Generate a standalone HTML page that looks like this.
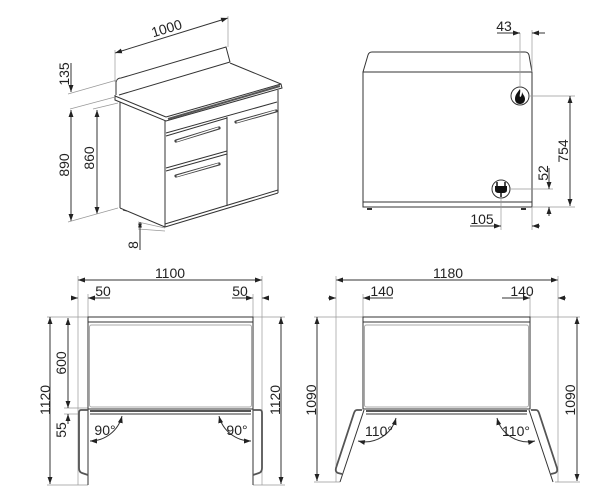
<!DOCTYPE html>
<html><head><meta charset="utf-8"><style>
html,body{margin:0;padding:0;background:#fff;}
svg{display:block;}
text{font-family:"Liberation Sans",sans-serif;font-size:14px;fill:#222;}
</style></head><body>
<svg width="600" height="494" viewBox="0 0 600 494" xmlns="http://www.w3.org/2000/svg">
<defs>
<marker id="a" viewBox="0 0 10 10" refX="10" refY="5" markerWidth="7" markerHeight="7" orient="auto-start-reverse"><path d="M0,1.5 L10,5 L0,8.5 z" fill="#222"/></marker>
</defs>
<g fill="none" stroke="#333" stroke-width="1">
<line x1="115" y1="53" x2="228" y2="18" marker-start="url(#a)" marker-end="url(#a)"/>
<line x1="115" y1="50" x2="115" y2="82" stroke="#999" stroke-width="0.7"/>
<line x1="228" y1="16" x2="228" y2="47" stroke="#999" stroke-width="0.7"/>
<path d="M116,95 L116,82 Q117,78 121,78 L226,47 L230,62"/>
<line x1="119" y1="95" x2="230" y2="62"/>
<path d="M115,95 L115,100 L166,121 L282,88 L281,84 L230,63"/>
<line x1="115" y1="96" x2="166" y2="117"/>
<line x1="166" y1="117" x2="281" y2="84"/>
<line x1="168" y1="119" x2="280" y2="86" stroke-width="2" stroke="#555"/>
<line x1="120" y1="102" x2="120" y2="208"/>
<line x1="165" y1="121" x2="165" y2="227"/>
<line x1="278" y1="90" x2="278" y2="193"/>
<line x1="120" y1="208" x2="165" y2="227"/>
<line x1="165" y1="227" x2="278" y2="193"/>
<line x1="165" y1="224" x2="278" y2="190"/>
<line x1="166" y1="133" x2="277" y2="102"/>
<line x1="166" y1="136" x2="227" y2="118"/>
<line x1="227" y1="117" x2="227" y2="206"/>
<line x1="166" y1="171" x2="227" y2="154"/>
<line x1="166" y1="168" x2="227" y2="151"/>
<g stroke-width="3.2" stroke="#444" stroke-linecap="round">
<line x1="176" y1="141" x2="219" y2="128"/>
<line x1="176" y1="176" x2="219" y2="164"/>
<line x1="236" y1="122" x2="276" y2="111"/>
</g>
<g stroke-width="1.2" stroke="#fff" stroke-linecap="round">
<line x1="177" y1="141" x2="218" y2="128"/>
<line x1="177" y1="176" x2="218" y2="164"/>
<line x1="237" y1="122" x2="275" y2="111"/>
</g>
<line x1="123" y1="210" x2="127" y2="211"/>
<line x1="71" y1="63" x2="71" y2="92" marker-end="url(#a)"/>
<line x1="71" y1="110" x2="71" y2="221" marker-start="url(#a)" marker-end="url(#a)"/>
<line x1="97" y1="110" x2="97" y2="214" marker-start="url(#a)" marker-end="url(#a)"/>
<g stroke="#999" stroke-width="0.7">
<line x1="68" y1="94" x2="117" y2="80"/>
<line x1="70" y1="109" x2="115" y2="97"/>
<line x1="93" y1="109" x2="118" y2="103"/>
<line x1="68" y1="222" x2="118" y2="208"/>
<line x1="138" y1="222" x2="165" y2="228"/>
<line x1="138" y1="229" x2="165" y2="231"/>
</g>
<line x1="140" y1="222" x2="140" y2="229" marker-start="url(#a)" marker-end="url(#a)" stroke-width="0.8"/>
<line x1="140" y1="229" x2="140" y2="250"/>

<path d="M363,72 L368,55 Q369,52 372,52 L525,52 Q528,52 529,55 L532,72"/>
<rect x="363" y="72" width="169" height="135"/>
<line x1="363" y1="202" x2="532" y2="202"/>
<line x1="367" y1="209" x2="372" y2="209" stroke-width="2"/>
<line x1="521" y1="209" x2="526" y2="209" stroke-width="2"/>
<circle cx="520" cy="96" r="9"/>
<circle cx="501" cy="189" r="9"/>
<g stroke="#999" stroke-width="0.7">
<line x1="520" y1="33" x2="520" y2="87"/>
<line x1="532" y1="30" x2="532" y2="72"/>
<line x1="529" y1="96" x2="575" y2="96"/>
<line x1="532" y1="207" x2="575" y2="207"/>
<line x1="510" y1="189" x2="553" y2="189"/>
<line x1="501" y1="198" x2="501" y2="230"/>
<line x1="532" y1="207" x2="532" y2="230"/>
</g>
<line x1="497" y1="33" x2="520" y2="33" marker-end="url(#a)"/>
<line x1="545" y1="33" x2="532" y2="33" marker-end="url(#a)"/>
<line x1="570" y1="96" x2="570" y2="206" marker-start="url(#a)" marker-end="url(#a)"/>
<line x1="549" y1="168" x2="549" y2="189" marker-end="url(#a)"/>
<line x1="549" y1="216" x2="549" y2="207" marker-end="url(#a)"/>
<line x1="470" y1="226" x2="501" y2="226" marker-end="url(#a)"/>
<line x1="540" y1="226" x2="532" y2="226" marker-end="url(#a)"/>

<line x1="78" y1="280" x2="262" y2="280" marker-start="url(#a)" marker-end="url(#a)"/>
<line x1="72" y1="298" x2="78" y2="298" marker-end="url(#a)"/>
<line x1="110" y1="298" x2="88" y2="298" marker-end="url(#a)"/>
<line x1="232" y1="298" x2="253" y2="298" marker-end="url(#a)"/>
<line x1="268" y1="298" x2="262" y2="298" marker-end="url(#a)"/>
<g stroke="#999" stroke-width="0.7">
<line x1="78" y1="276" x2="78" y2="485"/>
<line x1="88" y1="294" x2="88" y2="317"/>
<line x1="253" y1="294" x2="253" y2="317"/>
<line x1="262" y1="276" x2="262" y2="485"/>
<line x1="47" y1="317" x2="88" y2="317"/>
<line x1="253" y1="317" x2="285" y2="317"/>
<line x1="47" y1="485" x2="88" y2="485"/>
<line x1="253" y1="485" x2="285" y2="485"/>
<line x1="64" y1="408" x2="88" y2="408"/>
<line x1="64" y1="414" x2="78" y2="414"/>
</g>
<rect x="88" y="317" width="165" height="92"/>
<line x1="88" y1="322" x2="253" y2="322"/>
<rect x="89.5" y="325" width="162" height="82" rx="2" stroke="#aaa"/>
<line x1="90" y1="411" x2="251" y2="411" stroke-width="2" stroke="#555"/>
<line x1="90" y1="414" x2="251" y2="414"/>
<line x1="88" y1="409" x2="88" y2="485"/>
<path d="M88,410 L81,410 Q79,410 79,413 L79,468 Q79,472 82,473 L88,475" stroke-width="1.8" stroke="#555"/>
<line x1="253" y1="409" x2="253" y2="485"/>
<path d="M253,410 L260,410 Q262,410 262,413 L262,468 Q262,472 259,473 L253,475" stroke-width="1.8" stroke="#555"/>
<path d="M122,416 A33,33 0 0 1 90,441" marker-start="url(#a)" marker-end="url(#a)"/>
<path d="M219,416 A33,33 0 0 0 251,441" marker-start="url(#a)" marker-end="url(#a)"/>
<line x1="50" y1="317" x2="50" y2="484" marker-start="url(#a)" marker-end="url(#a)"/>
<line x1="68" y1="318" x2="68" y2="408" marker-start="url(#a)" marker-end="url(#a)"/>
<line x1="68" y1="424" x2="68" y2="414" marker-end="url(#a)"/>
<line x1="281" y1="317" x2="281" y2="484" marker-start="url(#a)" marker-end="url(#a)"/>

<line x1="336" y1="280" x2="558" y2="280" marker-start="url(#a)" marker-end="url(#a)"/>
<line x1="328" y1="298" x2="336" y2="298" marker-end="url(#a)"/>
<line x1="393" y1="298" x2="363" y2="298" marker-end="url(#a)"/>
<line x1="502" y1="298" x2="530" y2="298" marker-end="url(#a)"/>
<line x1="566" y1="298" x2="558" y2="298" marker-end="url(#a)"/>
<g stroke="#999" stroke-width="0.7">
<line x1="336" y1="276" x2="336" y2="482"/>
<line x1="363" y1="294" x2="363" y2="317"/>
<line x1="530" y1="294" x2="530" y2="317"/>
<line x1="558" y1="276" x2="558" y2="482"/>
<line x1="314" y1="317" x2="363" y2="317"/>
<line x1="530" y1="317" x2="580" y2="317"/>
<line x1="314" y1="482" x2="340" y2="482"/>
<line x1="555" y1="482" x2="580" y2="482"/>
</g>
<rect x="363" y="317" width="167" height="92"/>
<line x1="363" y1="322" x2="530" y2="322"/>
<rect x="364.5" y="325" width="164" height="82" rx="2" stroke="#aaa"/>
<line x1="366" y1="411" x2="527" y2="411" stroke-width="2" stroke="#555"/>
<line x1="366" y1="414" x2="527" y2="414"/>
<line x1="364" y1="410" x2="340" y2="482"/>
<path d="M362,410 L357,410 Q355,410 354,413 L336,468 Q335,472 338,473 L342,474" stroke-width="1.8" stroke="#555"/>
<line x1="529" y1="410" x2="553" y2="482"/>
<path d="M531,410 L536,410 Q538,410 539,413 L557,468 Q558,472 555,473 L551,474" stroke-width="1.8" stroke="#555"/>
<path d="M396,418 A32,32 0 0 1 358,441" marker-start="url(#a)" marker-end="url(#a)"/>
<path d="M497,418 A32,32 0 0 0 535,441" marker-start="url(#a)" marker-end="url(#a)"/>
<line x1="317" y1="317" x2="317" y2="481" marker-start="url(#a)" marker-end="url(#a)"/>
<line x1="577" y1="317" x2="577" y2="481" marker-start="url(#a)" marker-end="url(#a)"/>
</g>
<path d="M520,89 C517,93 515,95 515,99 C515,102 517,104 520,104 C523,104 525,102 525,99 C525,96 523,95 522,92 C522,95 521,97 520,97 C519,95 521,92 520,89 z" fill="#111"/>
<path d="M497,182 L497,186 M505,182 L505,186" stroke="#111" stroke-width="1.5"/>
<path d="M495,186 L507,186 L507,190 Q507,193 503,193 L499,193 Q495,193 495,190 z" fill="#111"/>
<line x1="501" y1="193" x2="501" y2="197" stroke="#111" stroke-width="1.5"/>
<text x="168" y="33" text-anchor="middle" transform="rotate(-17 168 33)">1000</text>
<text x="0" y="0" text-anchor="middle" transform="translate(69,74) rotate(-90)">135</text>
<text x="0" y="0" text-anchor="middle" transform="translate(69,165) rotate(-90)">890</text>
<text x="0" y="0" text-anchor="middle" transform="translate(94,158) rotate(-90)">860</text>
<text x="0" y="0" text-anchor="middle" transform="translate(138,245) rotate(-90)">8</text>
<text x="504" y="31" text-anchor="middle">43</text>
<text x="0" y="0" text-anchor="middle" transform="translate(568,151) rotate(-90)">754</text>
<text x="0" y="0" text-anchor="middle" transform="translate(548,173) rotate(-90)">52</text>
<text x="482" y="224" text-anchor="middle">105</text>
<text x="170" y="278" text-anchor="middle">1100</text>
<text x="103" y="296" text-anchor="middle">50</text>
<text x="240" y="296" text-anchor="middle">50</text>
<text x="0" y="0" text-anchor="middle" transform="translate(50,400) rotate(-90)">1120</text>
<text x="0" y="0" text-anchor="middle" transform="translate(66,363) rotate(-90)">600</text>
<text x="0" y="0" text-anchor="middle" transform="translate(66,430) rotate(-90)">55</text>
<text x="0" y="0" text-anchor="middle" transform="translate(280,400) rotate(-90)">1120</text>
<text x="105" y="435" text-anchor="middle">90°</text>
<text x="237" y="435" text-anchor="middle">90°</text>
<text x="448" y="278" text-anchor="middle">1180</text>
<text x="382" y="296" text-anchor="middle">140</text>
<text x="522" y="296" text-anchor="middle">140</text>
<text x="0" y="0" text-anchor="middle" transform="translate(316,400) rotate(-90)">1090</text>
<text x="0" y="0" text-anchor="middle" transform="translate(575,400) rotate(-90)">1090</text>
<text x="379" y="436" text-anchor="middle">110°</text>
<text x="516" y="436" text-anchor="middle">110°</text>
</svg>
</body></html>
